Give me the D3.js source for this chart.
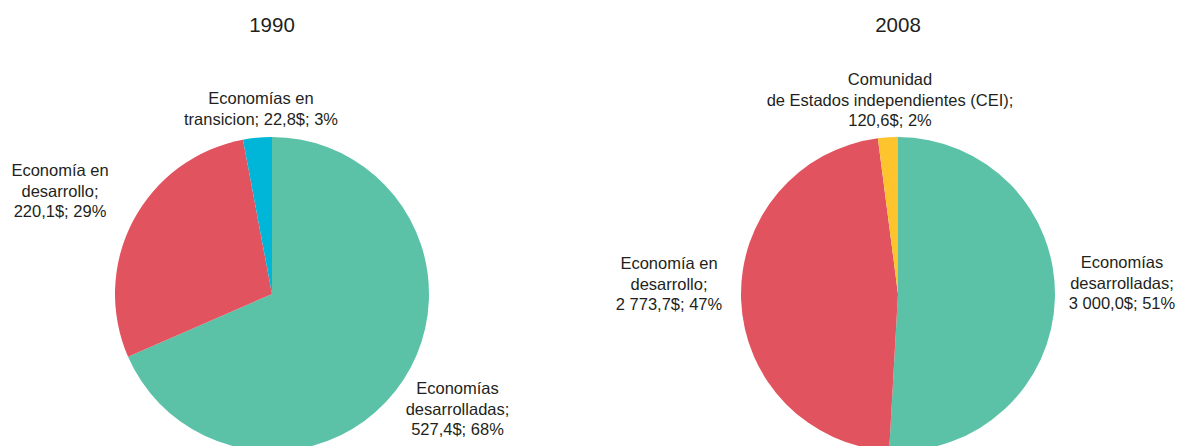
<!DOCTYPE html>
<html><head><meta charset="utf-8">
<script src="https://cdn.jsdelivr.net/npm/d3@7"></script>
<style>html,body{margin:0;padding:0;background:#fff;} svg{display:block;font-family:"Liberation Sans",Arial,sans-serif;}</style>
</head><body>
<svg id="chart" width="1180" height="446"></svg>
<script>
// ---- data ----
const titles = ["1990", "2008"];
const categories1990 = ["Economías desarrolladas", "Economía en desarrollo", "Economías en transicion"];
const values1990 = [527.4, 220.1, 22.8];
const labels1990 = [
  ["Economías", "desarrolladas;", "527,4$; 68%"],
  ["Economía en", "desarrollo;", "220,1$; 29%"],
  ["Economías en", "transicion; 22,8$; 3%"]
];
const categories2008 = ["Economías desarrolladas", "Economía en desarrollo", "Comunidad de Estados independientes (CEI)"];
const values2008 = [3000.0, 2773.7, 120.6];
const labels2008 = [
  ["Economías", "desarrolladas;", "3 000,0$; 51%"],
  ["Economía en", "desarrollo;", "2 773,7$; 47%"],
  ["Comunidad", "de Estados independientes (CEI);", "120,6$; 2%"]
];
const colors1990 = ["#5bc2a8", "#e1535e", "#00b6d8"];
const colors2008 = ["#5bc2a8", "#e1535e", "#fec42e"];

// ---- layout ----
const panels = [
  {title: titles[0], values: values1990, labels: labels1990, colors: colors1990, cx: 272, cy: 294, r: 157,
   titleX: 272, labelPos: [[457.5, 388], [60, 170], [261, 98]]},
  {title: titles[1], values: values2008, labels: labels2008, colors: colors2008, cx: 898, cy: 294, r: 157,
   titleX: 898, labelPos: [[1122, 262], [669, 263], [890, 79]]}
];
const lineH = 20.5;
const svg = d3.select("#chart");
const textColor = "#231f20";

panels.forEach(p => {
  const g = svg.append("g");
  g.append("text").attr("x", p.titleX).attr("y", 24.5).attr("text-anchor", "middle")
    .attr("dominant-baseline", "central").attr("font-size", 20.5).attr("fill", textColor).text(p.title);
  const pie = d3.pie().sort(null).value(d => d).startAngle(0).endAngle(2 * Math.PI);
  const arc = d3.arc().innerRadius(0).outerRadius(p.r);
  const pg = g.append("g").attr("transform", `translate(${p.cx},${p.cy})`);
  pg.selectAll("path").data(pie(p.values)).join("path")
    .attr("d", arc).attr("fill", (d, i) => p.colors[i]);
  p.labels.forEach((lines, i) => {
    const [lx, ly] = p.labelPos[i];
    const t = g.append("text").attr("text-anchor", "middle").attr("font-size", 16.5).attr("fill", textColor);
    lines.forEach((ln, j) => {
      t.append("tspan").attr("x", lx).attr("y", ly + j * lineH).attr("dominant-baseline", "central").text(ln);
    });
  });
});
</script>
</body></html>
